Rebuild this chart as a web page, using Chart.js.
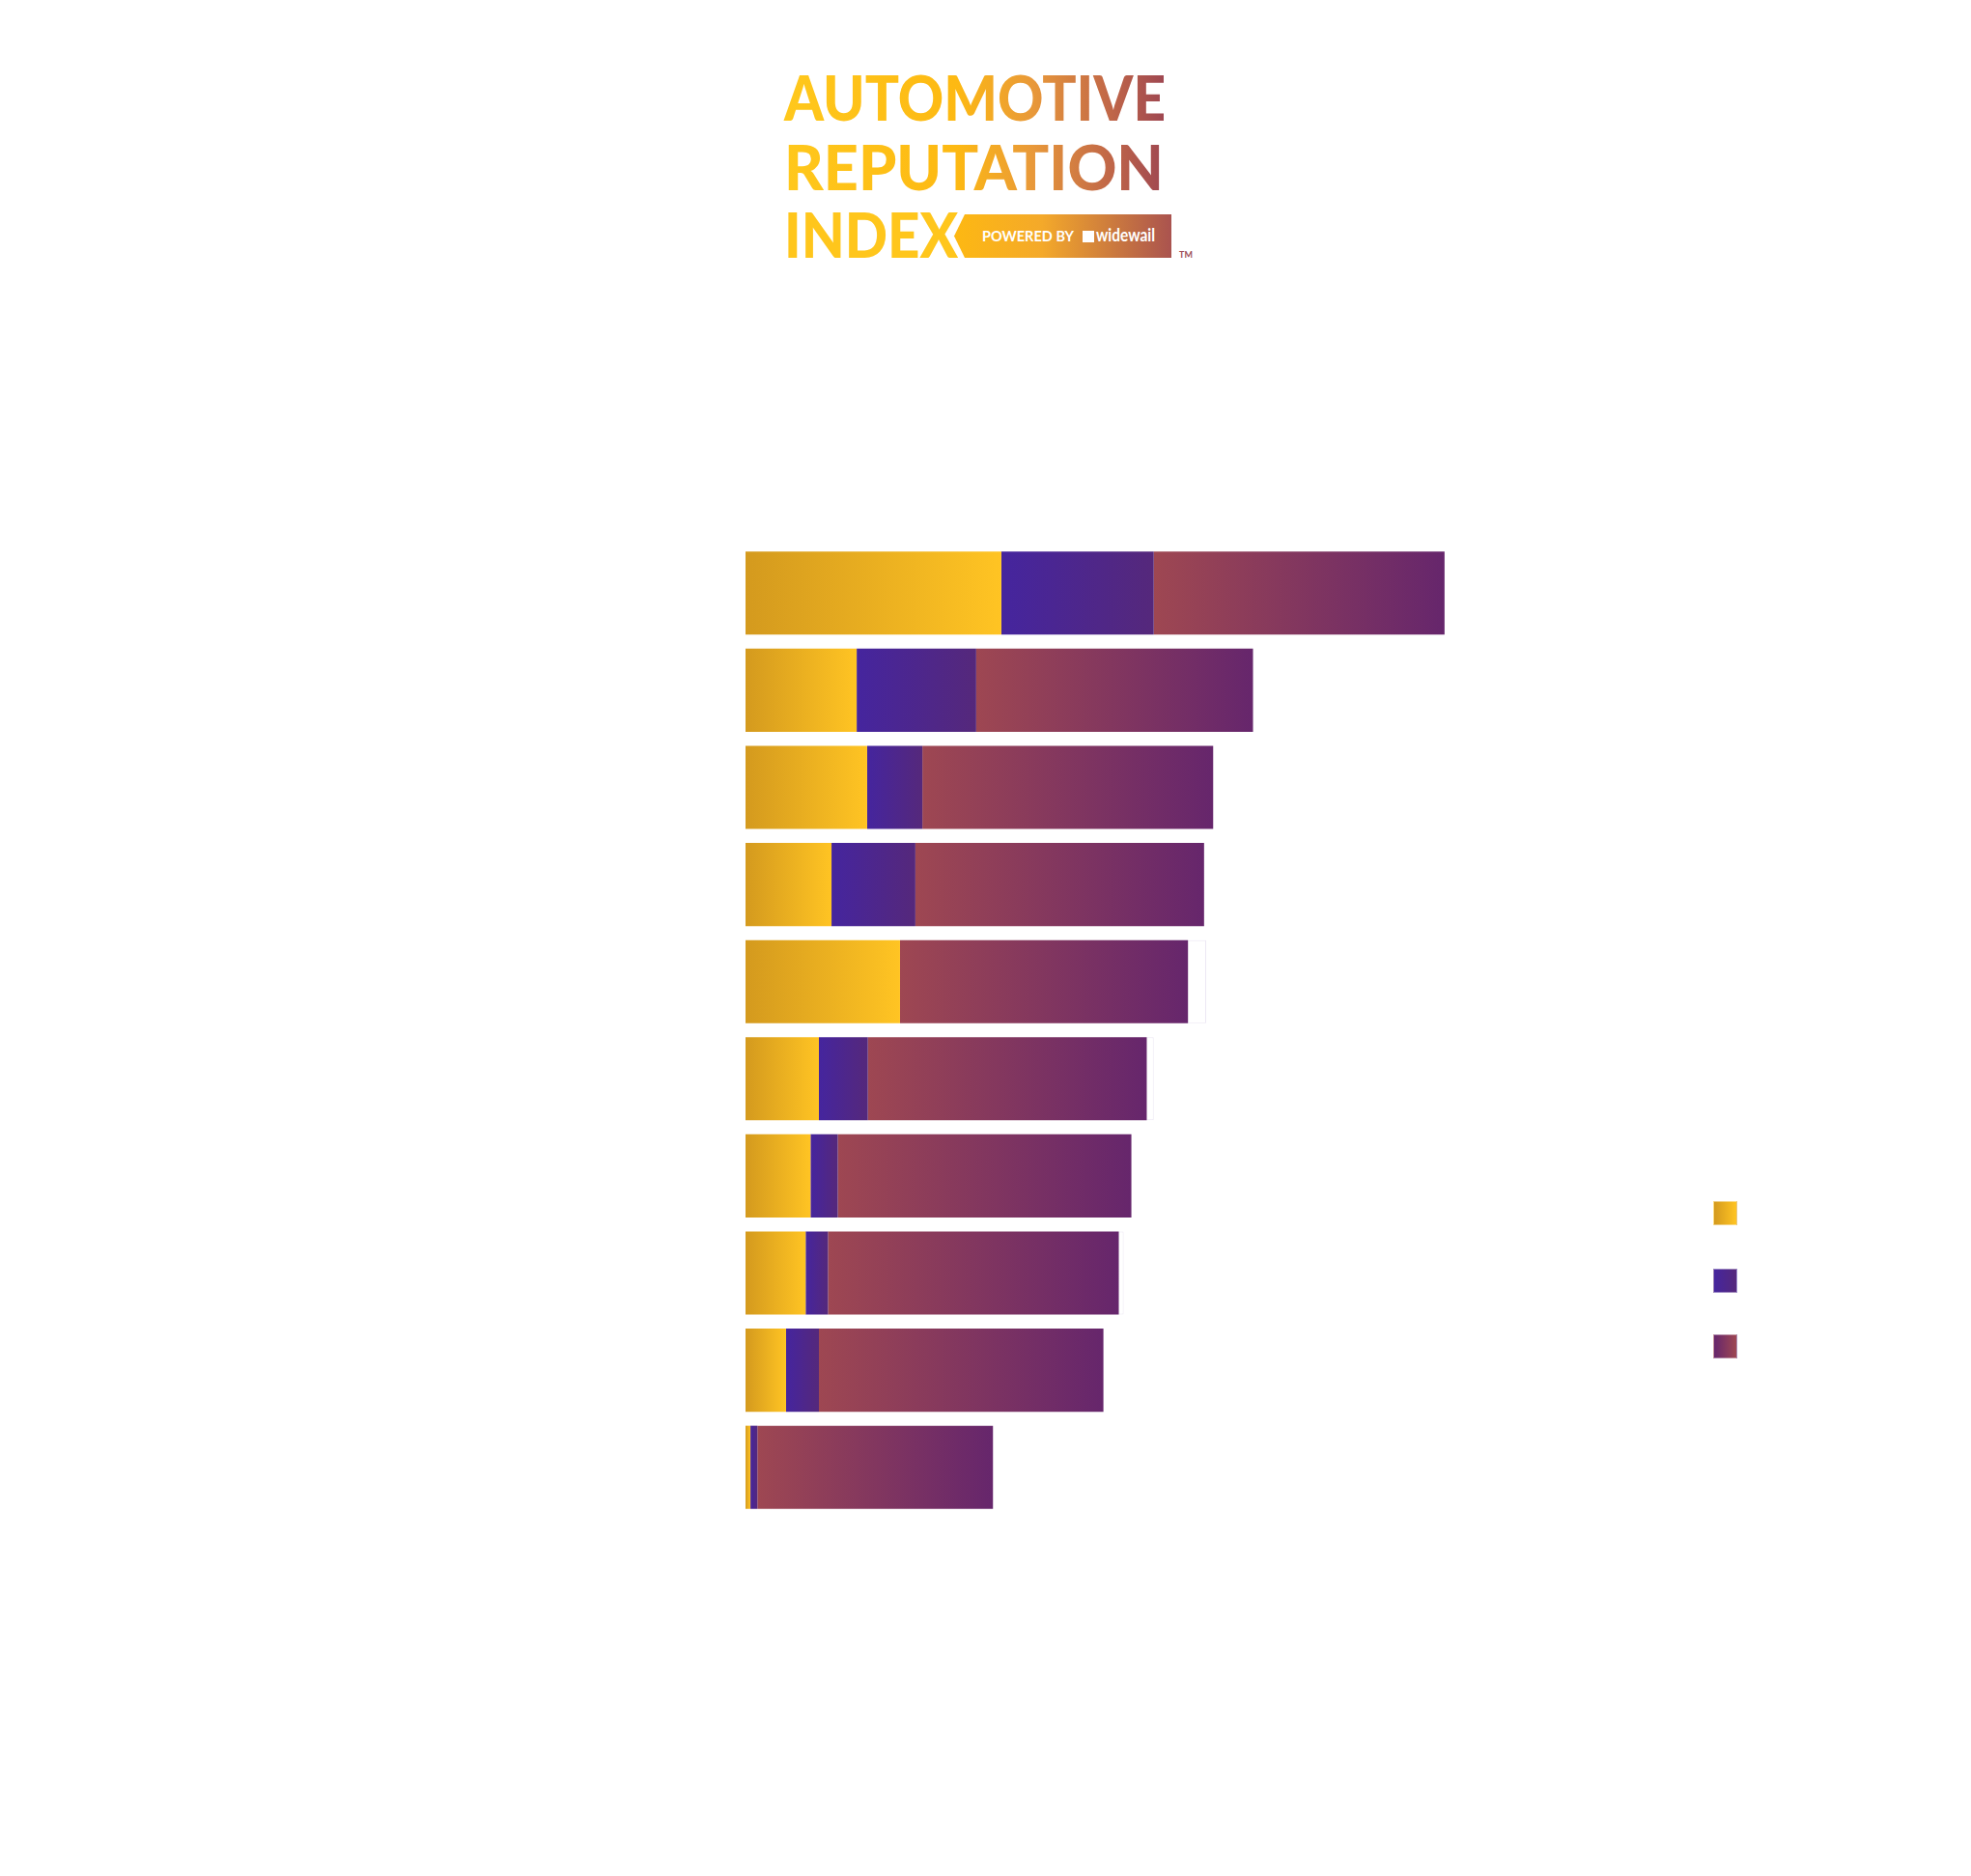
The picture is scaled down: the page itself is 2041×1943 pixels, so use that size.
<!DOCTYPE html>
<html>
<head>
<meta charset="utf-8">
<script src="https://cdn.jsdelivr.net/npm/chart.js@4"></script>
<style>
  html, body { margin: 0; padding: 0; background: #fff; }
  #page { position: relative; width: 2041px; height: 1943px; overflow: hidden; }
  #logo { position: absolute; left: 0; top: 0; }
  #chartBox { position: absolute; left: 0; top: 0; width: 2041px; height: 1943px; }
  .legend-box { position: absolute; width: 25px; height: 25px; box-sizing: border-box; border: 1px solid rgba(255,255,255,0.45); }
</style>
</head>
<body>
<div id="page">
  <svg id="logo" width="2041" height="320">
    <defs>
      <linearGradient id="titleGrad" gradientUnits="userSpaceOnUse" x1="812" y1="0" x2="1210" y2="0">
        <stop offset="0" stop-color="#ffc81c"/>
        <stop offset="0.45" stop-color="#fdb913"/>
        <stop offset="0.65" stop-color="#e8983a"/>
        <stop offset="0.85" stop-color="#c06648"/>
        <stop offset="1" stop-color="#9c4552"/>
      </linearGradient>
      <linearGradient id="bannerGrad" gradientUnits="userSpaceOnUse" x1="990" y1="0" x2="1213" y2="0">
        <stop offset="0" stop-color="#fdb813"/>
        <stop offset="0.4" stop-color="#f4a92a"/>
        <stop offset="1" stop-color="#aa534f"/>
      </linearGradient>
    </defs>
    <g font-family="Lato, 'Open Sans', sans-serif" font-weight="900">
      <text x="812" y="125" font-size="64" textLength="395" lengthAdjust="spacingAndGlyphs" fill="url(#titleGrad)">AUTOMOTIVE</text>
      <text x="812" y="197" font-size="64" textLength="393" lengthAdjust="spacingAndGlyphs" fill="url(#titleGrad)">REPUTATION</text>
      <text x="812" y="267" font-size="64" textLength="180" lengthAdjust="spacingAndGlyphs" fill="#ffc61c">INDEX</text>
      <polygon points="999,222 1213,222 1213,267 999,267 988,244.5" fill="url(#bannerGrad)"/>
      <text x="1017" y="250" font-size="15" font-weight="700" textLength="95" lengthAdjust="spacingAndGlyphs" fill="#fff">POWERED BY</text>
      <rect x="1121" y="239" width="12" height="12" fill="#fff"/>
      <text x="1135" y="250" font-size="19" font-weight="700" textLength="61" lengthAdjust="spacingAndGlyphs" fill="#fff">widewail</text>
      <text x="1221" y="267" font-size="9" font-weight="700" fill="#a0505a">TM</text>
    </g>
  </svg>
  <div id="chartBox"><canvas id="brandChart"></canvas></div>
  <div class="legend-box" style="left:1774px;top:1244px;background:linear-gradient(90deg,#d49a1e,#ffc423);"></div>
  <div class="legend-box" style="left:1774px;top:1314px;background:linear-gradient(90deg,#45259e,#55287b);"></div>
  <div class="legend-box" style="left:1774px;top:1382px;background:linear-gradient(90deg,#66266c,#9e4752);"></div>
</div>
<script>
const categories = ['1', '2', '3', '4', '5', '6', '7', '8', '9', '10'];
const yellowValues = [36.6, 15.9, 17.4, 12.3, 22.1, 10.5, 9.3, 8.6, 5.8, 0.7];
const blueValues = [21.8, 17.1, 7.9, 12.0, 0, 7.0, 3.9, 3.2, 4.7, 1.0];
const maroonValues = [41.6, 39.6, 41.6, 41.3, 41.2, 39.9, 42.0, 41.6, 40.7, 33.7];
const whiteValues = [0, 0, 0, 0, 2.6, 1.0, 0, 0.7, 0, 0];

// each stacked segment gets its own left-to-right gradient
function segGradient(fromColor, toColor) {
  return (c) => {
    const chart = c.chart;
    if (!chart.chartArea || c.type !== 'data') return toColor;
    const x = chart.scales.x;
    const i = c.dataIndex;
    let start = 0;
    for (let d = 0; d < c.datasetIndex; d++) start += chart.data.datasets[d].data[i];
    const end = start + chart.data.datasets[c.datasetIndex].data[i];
    const x0 = x.getPixelForValue(start);
    const x1 = x.getPixelForValue(end);
    if (x1 - x0 < 1) return toColor;
    const g = chart.ctx.createLinearGradient(x0, 0, x1, 0);
    g.addColorStop(0, fromColor);
    g.addColorStop(1, toColor);
    return g;
  };
}

const brandChart = new Chart(document.getElementById('brandChart'), {
  type: 'bar',
  data: {
    labels: categories,
    datasets: [
      { data: yellowValues, backgroundColor: segGradient('#d49a1e', '#ffc423'), borderWidth: 0 },
      { data: blueValues, backgroundColor: segGradient('#45259e', '#55287b'), borderWidth: 0 },
      { data: maroonValues, backgroundColor: segGradient('#9e4752', '#66266c'), borderWidth: 0 },
      { data: whiteValues, backgroundColor: '#ffffff', borderColor: 'rgba(200,185,222,0.35)', borderWidth: 1 }
    ]
  },
  options: {
    indexAxis: 'y',
    responsive: true,
    maintainAspectRatio: false,
    animation: false,
    datasets: { bar: { barPercentage: 1, categoryPercentage: 0.856 } },
    layout: { padding: { left: 772, top: 564, right: 328, bottom: 373 } },
    scales: {
      x: { stacked: true, min: 0, max: 130, display: false },
      y: { stacked: true, display: false }
    },
    plugins: {
      legend: { display: false },
      tooltip: { enabled: false }
    }
  }
});
</script>
</body>
</html>
